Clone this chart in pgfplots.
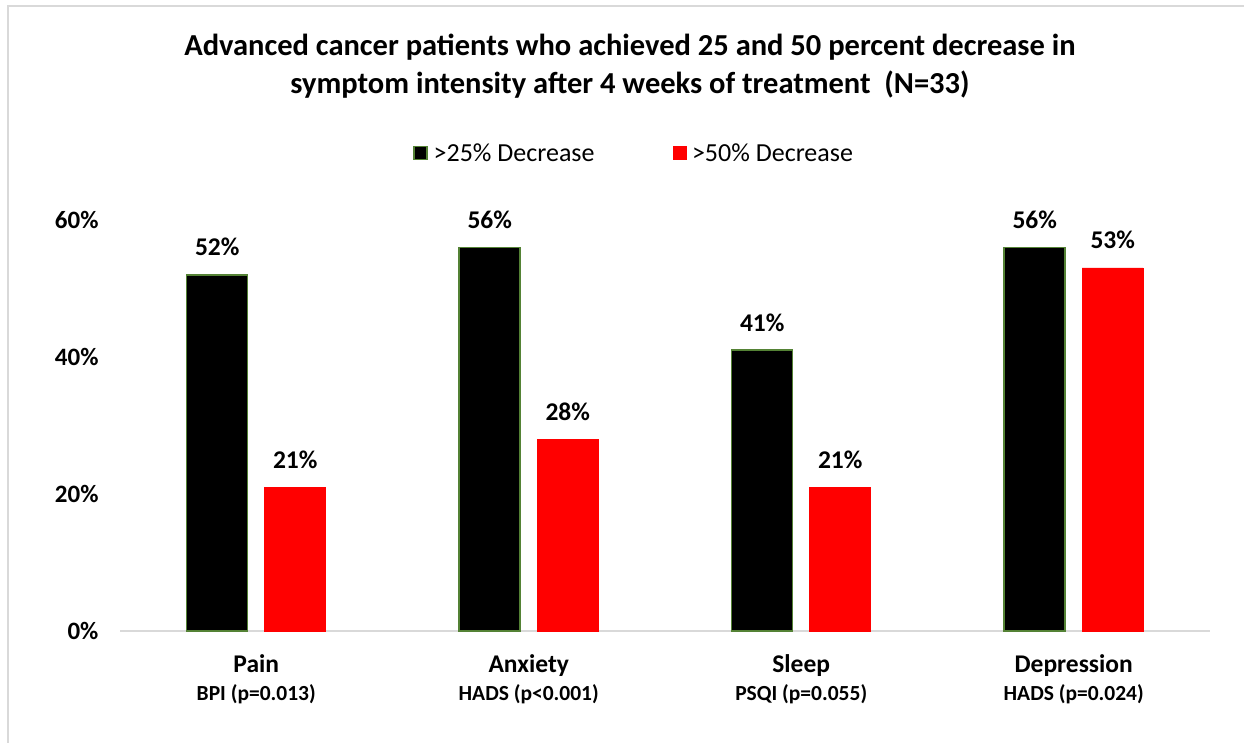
\documentclass[border=0pt]{standalone}
\usepackage{fontspec}
\setmainfont{Carlito}
\usepackage{pgfplots}
\pgfplotsset{compat=1.18}
\definecolor{edgegreen}{RGB}{84,130,53}
\definecolor{axgray}{RGB}{217,217,217}
\begin{document}
\begin{tikzpicture}[x=1pt,y=1pt]
\path[use as bounding box] (0,0) rectangle (1244,-743);
\draw[axgray, line width=2pt] (8,-743) -- (8,-6) -- (1244,-6);
\node[font=\fontsize{30.5}{38}\selectfont\bfseries, align=center] at (630,-66) {Advanced cancer patients who achieved 25 and 50 percent decrease in\\symptom intensity after 4 weeks of treatment\ \ (N=33)};
\begin{axis}[
  at={(120pt,-631pt)}, anchor=south west,
  scale only axis, width=1090pt, height=411pt,
  xmin=-0.5, xmax=3.5, ymin=0, ymax=60,
  enlargelimits=false, clip=false,
  axis lines=left,
  axis line style={-},
  x axis line style={axgray, line width=2pt},
  y axis line style={draw=none},
  major tick length=0pt,
  ybar=17pt, bar width=61pt,
  xtick={0,1,2,3},
  xticklabels={
    {Pain\\{\fontsize{21.5}{28}\selectfont BPI (p=0.013)}},
    {Anxiety\\{\fontsize{21.5}{28}\selectfont HADS (p<0.001)}},
    {Sleep\\{\fontsize{21.5}{28}\selectfont PSQI (p=0.055)}},
    {Depression\\{\fontsize{21.5}{28}\selectfont HADS (p=0.024)}}},
  xticklabel style={align=center, anchor=north, font=\fontsize{25.5}{28}\selectfont\bfseries, yshift=-20pt},
  ytick={0,20,40,60},
  yticklabel={\pgfmathprintnumber{\tick}\%},
  yticklabel style={font=\fontsize{25}{30}\selectfont\bfseries, xshift=-18pt},
  /pgf/number format/assume math mode=true,
  nodes near coords={\fontsize{25.5}{30}\selectfont\bfseries\pgfmathprintnumber{\pgfplotspointmeta}\%},
  every node near coord/.append style={font=\fontsize{25.5}{30}\selectfont\bfseries, anchor=base, yshift=19pt},
  legend columns=2,
  legend style={at={(0.4716,1.163)}, anchor=center, draw=none, fill=none,
    font=\fontsize{26}{30}\selectfont,
    /tikz/every odd column/.append style={column sep=4pt},
    /tikz/every even column/.append style={column sep=76pt}},
  legend image code/.code={\draw[#1] (0pt,-6.5pt) rectangle (13pt,6.5pt);},
]
\addplot[fill=black, draw=edgegreen, line width=1.5pt] coordinates {(0,52) (1,56) (2,41) (3,56)};
\addplot[fill=red, draw=red, line width=0.5pt] coordinates {(0,21) (1,28) (2,21) (3,53)};
\legend{>25\% Decrease, >50\% Decrease}
\end{axis}
\end{tikzpicture}
\end{document}
